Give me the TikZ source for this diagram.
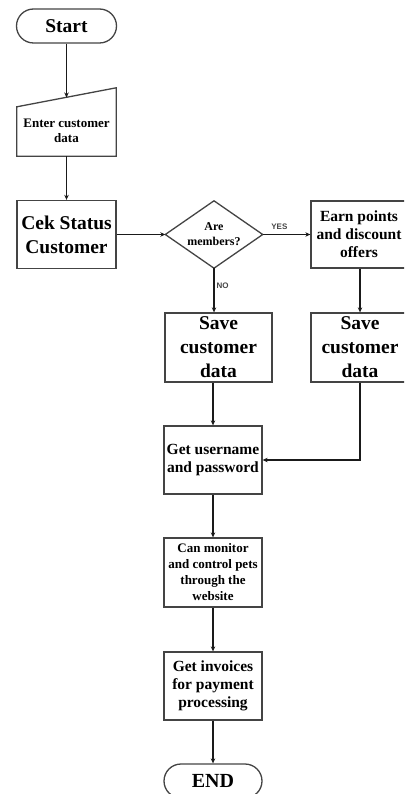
\documentclass[tikz,border=0pt]{standalone}
\usepackage{fontspec}
\setmainfont{Liberation Serif}
\newfontfamily\lblfont{Liberation Sans}
\usetikzlibrary{arrows.meta,calc}
\definecolor{bordc}{HTML}{444444}
\definecolor{linec}{HTML}{1A1A1A}
\tikzset{
  box/.style={draw=bordc, line width=1.3pt, fill=white, align=center, inner sep=1pt, text=black},
  term/.style={box, rounded corners=17pt},
  ghost/.style={draw=none, inner sep=0pt},
  arr/.style={draw=linec, line width=1.1pt, -{Stealth[length=5pt,width=4.5pt]}},
  lbl/.style={font=\lblfont\fontsize{8}{9}\selectfont\bfseries, text=bordc, inner sep=0pt},
  fbig/.style={font=\fontsize{19.5}{24}\selectfont\bfseries},
  fmid/.style={font=\fontsize{15.5}{18}\selectfont\bfseries},
  fsmall/.style={font=\fontsize{13}{15.5}\selectfont\bfseries},
}
\begin{document}
\begin{tikzpicture}[x=1pt,y=-1pt]
\useasboundingbox (0,0) rectangle (404,794);
\clip (0,0) rectangle (404,794);
% Start
\node[term, minimum width=100, minimum height=34, fbig] (start) at (66.5,26) {Start};
% manual input
\node[ghost, minimum width=99, minimum height=68] (inp) at (66.5,122) {};
\draw[draw=bordc, line width=1.3pt, fill=white] (inp.south west) -- (inp.south east) -- (inp.north east) -- ($(inp.north west)+(0,19)$) -- cycle;
\node[ghost, align=center, fsmall] (inptxt) at (66.5,131) {Enter customer\\data};
\coordinate (inptop) at (66.5,97.5);
% Cek status
\node[box, minimum width=99, minimum height=68, fbig] (cek) at (66.5,234.5) {Cek Status\\Customer};
% diamond
\node[ghost, minimum width=97, minimum height=67] (dia) at (214,234.5) {};
\draw[draw=bordc, line width=1.3pt, fill=white] (dia.north) -- (dia.east) -- (dia.south) -- (dia.west) -- cycle;
\node[ghost, align=center, font=\fontsize{12}{15}\selectfont\bfseries] (diatxt) at (214,234.5) {Are\\members?};
% earn
\node[box, minimum width=96, minimum height=67, fmid] (earn) at (359,234.5) {Earn points\\and discount\\offers};
% save left / right
\node[box, minimum width=107, minimum height=69, fbig] (savel) at (218.5,347.5) {Save\\customer\\data};
\node[box, minimum width=98, minimum height=69, fbig] (saver) at (360,347.5) {Save\\customer\\data};
% username
\node[box, minimum width=98, minimum height=68, fmid] (user) at (213,460) {Get username\\and password};
% monitor
\node[box, minimum width=98, minimum height=69, font=\fontsize{13}{16}\selectfont\bfseries] (mon) at (213,572.5) {Can monitor\\and control pets\\through the\\website};
% invoices
\node[box, minimum width=98, minimum height=68, fmid] (inv) at (213,686) {Get invoices\\for payment\\processing};
% END
\node[term, minimum width=98, minimum height=34, font=\fontsize{20}{24}\selectfont\bfseries] (endn) at (213,781) {END};
% connectors
\draw[arr] (start.south) -- (inptop);
\draw[arr] (inp.south) -- (cek.north);
\draw[arr] (cek.east) -- (dia.west);
\draw[arr] (dia.east) -- node[lbl, above=4pt, pos=0.35] (yes) {YES} (earn.west);
\draw[arr] (dia.south) -- node[lbl, right=2pt, pos=0.4] (no) {NO} (dia.south |- savel.north);
\draw[arr] (saver.north |- earn.south) -- (saver.north);
\draw[arr] (user.north |- savel.south) -- (user.north);
\draw[arr] (saver.south) -- (saver.south |- user.east) -- (user.east);
\draw[arr] (user.south) -- (mon.north);
\draw[arr] (mon.south) -- (inv.north);
\draw[arr] (inv.south) -- (endn.north);
\end{tikzpicture}
\end{document}
